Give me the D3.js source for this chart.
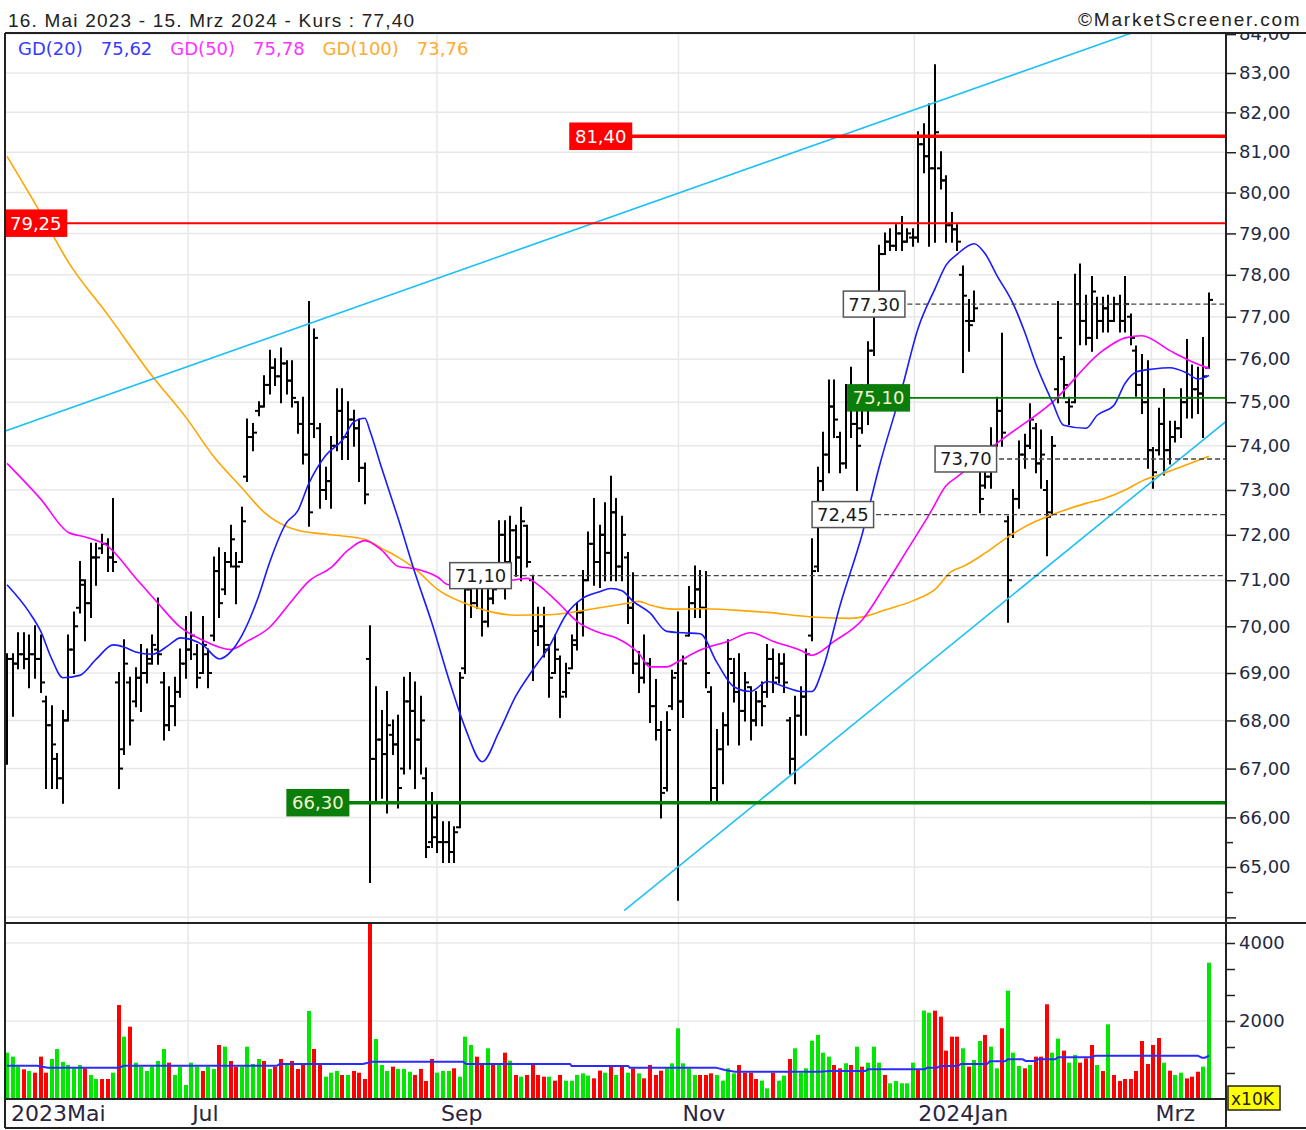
<!DOCTYPE html>
<html>
<head>
<meta charset="utf-8">
<title>Kurs 16. Mai 2023 - 15. Mrz 2024</title>
<script src="https://cdn.jsdelivr.net/npm/d3@7"></script>
<style>
  body { margin: 0; background: #fff; }
  svg { display: block; }
</style>
</head>
<body>
<script>
// daily bars, 16.05.2023 - 15.03.2024 (one entry per trading day)
var highs = [
  69.4, 69.4, 69.85, 69.85, 69.8, 70.0, 69.8, 68.5, 68.3, 67.3,
  68.2, 69.8, 70.3, 71.4, 71.0, 71.8, 71.8, 72.0, 71.9, 72.8,
  69.0, 69.7, 68.9, 69.1, 69.6, 69.5, 69.8, 70.6, 69.0, 68.7,
  68.9, 69.5, 70.2, 70.3, 69.6, 70.2, 69.5, 71.5, 71.7, 71.6,
  72.2, 71.6, 72.6, 74.6, 74.5, 75.0, 75.6, 76.2, 76.0, 76.25,
  75.95, 75.95, 75.0, 75.1, 77.35, 76.7, 74.5, 73.5, 74.2, 75.3,
  75.3, 75.0, 74.8, 74.6, 73.6, 70.0, 68.7, 68.2, 68.6, 68.0,
  68.1, 68.9, 69.0, 68.8, 68.5, 67.0, 66.5, 66.3, 65.9, 65.9,
  65.8, 69.0, 71.3, 71.3, 71.1, 71.0, 70.85, 71.0, 72.3, 72.3,
  72.4, 72.2, 72.6, 72.2, 71.1, 70.4, 70.4, 69.6, 69.8, 69.35,
  69.2, 69.8, 70.5, 71.2, 72.05, 72.8, 72.2, 72.7, 73.3, 72.8,
  72.4, 71.6, 71.15, 69.45, 69.8, 69.3, 68.85, 67.97, 68.17, 69.05,
  70.3, 69.35, 70.85, 71.3, 71.2, 71.18, 68.7, 67.8, 68.15, 69.7,
  69.3, 69.4, 69.0, 68.7, 68.6, 68.8, 69.6, 69.5, 69.4, 69.4,
  68.05, 68.5, 68.7, 69.5, 71.9, 73.5, 74.3, 75.5, 75.5, 74.3,
  75.4, 75.8, 74.85, 75.4, 76.4, 77.4, 78.7, 79.0, 79.1, 79.2,
  79.4, 79.1, 79.1, 81.5, 81.7, 82.2, 83.2, 81.0, 80.4, 79.5,
  79.2, 78.2, 77.4, 77.6, 73.65, 73.5, 74.4, 75.1, 76.6, 72.4,
  73.0, 74.1, 74.25, 74.95, 74.5, 74.35, 73.2, 74.2, 77.35, 76.05,
  75.1, 78.0, 78.25, 77.5, 77.95, 77.45, 77.45, 77.5, 77.45, 77.5,
  77.95, 77.05, 76.3, 76.1, 75.95, 73.95, 74.85, 75.3, 74.55, 74.55,
  75.3, 76.45, 75.85, 75.8, 76.5, 77.55
];
var lows = [
  67.1, 68.1, 69.1, 69.1, 68.7, 68.9, 68.6, 66.6, 66.6, 66.6,
  66.3, 68.0, 69.0, 70.3, 69.7, 70.2, 70.9, 71.6, 71.2, 71.2,
  66.6, 67.3, 67.5, 68.3, 68.2, 68.8, 69.2, 69.2, 67.6, 67.8,
  67.9, 68.5, 68.9, 69.3, 68.7, 69.0, 68.7, 69.7, 70.2, 70.7,
  71.3, 70.5, 71.4, 73.2, 73.9, 74.7, 74.9, 75.2, 75.4, 75.0,
  75.2, 74.9, 74.3, 73.6, 72.2, 74.2, 72.6, 72.8, 72.6, 73.9,
  73.7, 73.7, 74.0, 73.2, 72.7, 64.7, 66.3, 66.4, 66.1, 67.3,
  66.2, 66.9, 67.0, 66.6, 66.9, 65.2, 65.4, 65.3, 65.1, 65.1,
  65.1, 65.8, 69.0, 70.2, 70.4, 69.8, 70.0, 70.5, 71.0, 70.6,
  71.3, 71.1, 71.0, 71.3, 68.85, 69.6, 69.35, 68.5, 69.0, 68.07,
  68.5, 69.1, 69.5, 69.8, 71.0, 70.9, 70.85, 71.0, 71.0, 71.0,
  71.0, 70.07, 69.0, 68.6, 68.8, 67.97, 67.6, 66.0, 66.55, 68.24,
  64.35, 68.07, 69.8, 70.2, 70.2, 68.7, 66.3, 66.3, 66.7, 67.5,
  68.4, 67.5, 68.0, 67.6, 67.9, 67.9, 68.5, 68.6, 68.8, 68.6,
  66.9, 66.7, 67.7, 67.7, 69.7, 71.2, 73.0, 73.4, 74.2, 73.4,
  73.5, 74.2, 73.0, 74.3, 74.5, 76.1, 77.1, 78.5, 78.6, 78.6,
  78.6, 78.8, 78.7, 78.8, 80.5, 78.7, 78.8, 80.1, 78.8, 78.8,
  78.6, 75.7, 76.2, 76.9, 72.5, 73.05, 73.05, 74.0, 74.0, 70.1,
  71.95, 72.6, 73.5, 73.95, 73.4, 73.05, 71.55, 72.45, 75.0, 75.1,
  74.5, 75.0, 76.35, 76.35, 76.2, 76.5, 76.65, 76.65, 76.9, 76.65,
  76.65, 76.35, 75.15, 74.75, 73.5, 73.05, 73.8, 73.35, 73.6, 74.1,
  74.2, 74.65, 74.65, 74.75, 74.2, 75.8
];
var opens = [
  67.2, 69.3, 69.2, 69.4, 69.3, 69.4, 69.3, 68.4, 67.9, 67.2,
  66.8, 68.0, 69.5, 70.4, 70.9, 70.5, 71.5, 71.7, 71.8, 71.5,
  68.8, 67.4, 68.8, 68.4, 68.9, 69.0, 69.3, 69.5, 68.8, 67.9,
  68.3, 68.6, 69.2, 69.5, 69.4, 69.0, 69.4, 69.8, 71.2, 70.8,
  71.4, 71.3, 71.4, 73.3, 74.2, 74.8, 74.9, 75.4, 75.8, 75.6,
  75.9, 75.5, 75.0, 74.5, 73.8, 74.5, 74.4, 73.0, 73.2, 74.0,
  74.8, 74.2, 74.6, 74.4, 73.5, 69.3, 67.2, 67.6, 67.3, 67.7,
  67.5, 67.0, 68.4, 68.2, 67.6, 66.8, 65.5, 65.6, 65.5, 65.5,
  65.3, 65.8, 69.1, 70.8, 70.5, 70.9, 70.1, 70.6, 71.0, 72.0,
  71.4, 72.1, 71.5, 72.2, 71.0, 69.9, 70.0, 69.5, 69.0, 69.3,
  68.6, 69.1, 69.6, 70.3, 71.0, 71.8, 71.4, 72.0, 71.6, 72.5,
  71.3, 71.5, 70.4, 69.2, 68.9, 69.2, 68.3, 67.8, 66.6, 68.3,
  69.0, 68.4, 69.8, 70.5, 70.8, 70.4, 68.6, 66.6, 67.4, 67.9,
  69.0, 68.6, 68.2, 68.7, 68.0, 68.4, 68.6, 69.3, 68.9, 69.2,
  68.0, 67.2, 68.1, 68.5, 69.8, 71.3, 73.2, 73.8, 74.9, 74.2,
  73.6, 75.0, 74.5, 74.4, 75.0, 76.2, 77.2, 78.5, 78.8, 78.7,
  79.0, 78.8, 78.9, 78.9, 81.2, 80.9, 80.6, 80.6, 80.3, 79.2,
  79.1, 78.0, 76.9, 76.9, 73.5, 73.1, 73.3, 74.0, 74.8, 72.3,
  72.0, 72.8, 73.8, 74.0, 74.4, 73.6, 73.0, 72.5, 75.3, 76.0,
  75.0, 75.0, 77.3, 76.9, 76.5, 77.3, 76.9, 77.2, 76.9, 77.3,
  76.9, 77.0, 76.2, 75.4, 75.0, 73.9, 73.9, 74.5, 73.9, 74.2,
  74.4, 75.0, 75.1, 75.3, 75.2, 75.8
];
var closes = [
  69.3, 69.2, 69.4, 69.3, 69.4, 69.3, 68.8, 67.9, 67.5, 66.8,
  68.0, 69.5, 70.0, 71.0, 70.5, 71.5, 71.5, 71.8, 71.5, 71.4,
  67.0, 69.2, 68.0, 68.9, 69.0, 69.2, 69.6, 69.4, 67.9, 68.3,
  68.6, 69.2, 69.5, 69.8, 68.9, 69.6, 69.0, 71.2, 70.5, 71.4,
  71.9, 71.3, 72.3, 74.2, 74.3, 74.9, 75.4, 75.8, 75.6, 75.9,
  75.5, 75.1, 74.5, 73.8, 72.5, 76.5, 73.0, 73.2, 74.0, 74.8,
  74.2, 74.6, 74.4, 73.5, 72.9, 67.2, 67.6, 67.3, 67.9, 67.5,
  66.6, 68.4, 68.2, 67.6, 68.0, 65.4, 66.0, 65.5, 65.5, 65.3,
  65.7, 68.9, 70.8, 70.5, 70.9, 70.1, 70.6, 70.8, 72.0, 71.0,
  72.1, 71.5, 72.3, 71.4, 69.9, 70.0, 69.6, 68.9, 69.5, 68.5,
  69.0, 69.7, 70.3, 71.0, 71.8, 71.4, 72.0, 71.6, 72.5, 71.3,
  72.0, 70.4, 69.2, 68.9, 69.2, 68.3, 67.8, 66.5, 67.8, 68.9,
  68.4, 69.2, 70.5, 70.8, 70.4, 69.0, 66.6, 67.4, 67.9, 69.3,
  68.6, 68.2, 68.8, 68.0, 68.4, 68.3, 69.3, 68.8, 69.2, 68.8,
  67.2, 68.1, 68.5, 69.4, 71.2, 73.2, 73.8, 74.9, 74.6, 73.6,
  75.0, 74.5, 74.0, 75.0, 76.2, 77.2, 78.5, 78.8, 78.7, 79.0,
  78.8, 79.0, 78.9, 81.2, 80.9, 80.6, 81.5, 80.3, 79.2, 79.1,
  78.8, 77.5, 76.8, 77.2, 72.8, 73.3, 74.0, 74.8, 74.3, 71.0,
  72.8, 73.8, 74.0, 74.6, 73.6, 73.8, 72.4, 74.0, 76.5, 75.4,
  74.9, 77.3, 76.9, 76.5, 77.6, 76.9, 77.2, 76.9, 77.3, 76.9,
  77.3, 76.5, 75.4, 75.0, 73.9, 73.4, 74.5, 73.9, 74.2, 74.4,
  75.0, 75.1, 75.3, 75.2, 75.6, 77.4
];
// volume in x10K, with bar colour (G = up, R = down)
var volumes = [
  1190, 1086, 830, 760, 718, 675, 1086, 675, 1026, 1283,
  950, 872, 787, 872, 787, 616, 513, 513, 513, 675,
  2411, 1599, 1855, 932, 830, 718, 830, 975, 1283, 932,
  616, 830, 359, 932, 830, 718, 830, 770, 1385, 1342,
  975, 830, 830, 1342, 900, 1026, 975, 770, 830, 1026,
  872, 975, 770, 915, 2257, 1283, 872, 573, 675, 718,
  616, 616, 718, 675, 513, 5200, 1539, 872, 718, 830,
  770, 770, 700, 616, 770, 462, 1026, 675, 718, 718,
  787, 573, 1599, 1385, 1086, 898, 1300, 898, 898, 1188,
  983, 616, 573, 616, 898, 616, 573, 573, 470, 616,
  470, 470, 616, 658, 600, 530, 727, 675, 846, 616,
  846, 675, 787, 658, 530, 872, 616, 727, 787, 915,
  1813, 915, 787, 616, 616, 616, 658, 616, 470, 787,
  658, 872, 675, 675, 513, 470, 274, 675, 470, 600,
  1026, 1300, 675, 787, 1496, 1642, 1188, 1086, 872, 787,
  915, 872, 1342, 829, 932, 1342, 932, 616, 402, 462,
  402, 402, 932, 744, 2266, 2214, 2266, 2112, 1240, 1599,
  1599, 1300, 829, 1000, 1488, 1642, 1342, 787, 1813, 2779,
  1188, 846, 787, 872, 1086, 1086, 2428, 1188, 1548, 1240,
  932, 1129, 932, 1043, 1385, 872, 718, 1915, 615, 461,
  513, 513, 718, 1487, 897, 1385, 1564, 931, 726, 615,
  675, 528, 572, 700, 829, 3495
];
var volDirs =
  "GGGRGRRRGG" + "GGGGRGGRRG" + "RGRGGGGGGR" + "GGGGGRGGRG" +
  "RRGGGGRGRR" + "GRRRGRRGGG" + "RGRRRRGGGR" + "GGGRRRRGGG" +
  "RGGGRRGRGR" + "GRGRRRRGRR" + "GGGGGRRGRG" + "RGRGRRRRGG" +
  "GGGGRRRGGG" + "GRRRRGGRGG" + "RGGGGGGGRR" + "GRGRGGGRGG" +
  "GGGRGGRRRR" + "RGRGGRGGRG" + "GGRGRRRGGR" + "GGRRRGRGRR" +
  "RRRRRRRGRG" + "GRRRGG";

// moving averages: [bar index, value]
var gd20 = [[0,70.9],[4,70.3],[6,69.9],[8,69.3],[10,68.9],[13,68.95],[16,69.3],[19,69.6],[21,69.55],
  [23,69.45],[26,69.4],[29,69.6],[31,69.75],[35,69.6],[38,69.3],[40,69.45],[42,69.8],[45,70.65],
  [47,71.4],[50,72.27],[52,72.53],[54,73.15],[57,73.78],[60,74.13],[62,74.54],[64,74.63],[65,74.31],
  [67,73.5],[70,72.35],[73,71.15],[76,70.07],[79,68.88],[82,67.83],[85,67.14],[88,67.76],[91,68.51],
  [94,69.06],[97,69.57],[100,70.25],[103,70.61],[106,70.75],[108,70.82],[110,70.77],[112,70.54],
  [115,70.29],[118,69.89],[121,69.86],[124,69.84],[127,69.22],[130,68.71],[133,68.61],[136,68.82],
  [139,68.71],[142,68.61],[144,68.61],[146,69.12],[149,70.45],[153,72.03],[156,73.52],[160,75.28],
  [163,76.74],[166,77.67],[168,78.24],[170,78.5],[173,78.75],[175,78.5],[177,78.0],[180,77.3],
  [182,76.65],[184,75.9],[187,75.0],[189,74.47],[193,74.4],[195,74.7],[198,74.93],[200,75.44],
  [202,75.7],[205,75.77],[208,75.8],[211,75.68],[213,75.54],[215,75.62]];
var gd50 = [[0,73.6],[6,72.8],[11,72.05],[14,71.95],[18,71.75],[23,71.05],[27,70.5],[31,69.98],
  [35,69.7],[40,69.5],[43,69.68],[47,69.98],[51,70.56],[54,70.98],[58,71.28],[61,71.66],[64,71.87],
  [67,71.66],[70,71.3],[73,71.25],[77,71.07],[79,70.9],[85,71.0],[90,71.0],[93,71.04],[95,70.9],
  [99,70.46],[102,70.1],[106,69.86],[109,69.75],[113,69.42],[115,69.13],[118,69.13],[120,69.24],
  [124,69.49],[129,69.68],[133,69.86],[137,69.68],[142,69.48],[144,69.38],[148,69.68],[153,70.14],
  [157,70.87],[161,71.66],[165,72.46],[168,73.1],[170,73.3],[177,74.05],[187,75.0],[196,76.2],
  [200,76.5],[203,76.55],[208,76.2],[211,76.0],[215,75.78]];
var gd100 = [[0,80.9],[6,79.5],[11,78.3],[18,77.05],[26,75.6],[32,74.65],[37,73.75],[42,73.05],
  [46,72.5],[52,72.1],[58,72.0],[64,71.9],[67,71.7],[70,71.5],[73,71.25],[77,70.8],[83,70.45],
  [87,70.3],[91,70.24],[97,70.25],[102,70.32],[106,70.4],[111,70.5],[113,70.54],[115,70.46],
  [119,70.37],[124,70.38],[130,70.35],[136,70.3],[144,70.2],[151,70.17],[154,70.23],[157,70.35],
  [162,70.55],[166,70.8],[169,71.2],[171,71.3],[175,71.6],[179,71.95],[184,72.3],[187,72.45],
  [193,72.7],[196,72.8],[200,73.0],[203,73.2],[207,73.38],[211,73.57],[215,73.76]];
// average volume line
var volAvg = [[0,855],[5.4,855],[7.3,804],[20.2,804],[20.8,855],[48.3,855],[48.8,898],[63.7,898],
  [65.3,958],[81.6,958],[82.1,898],[100.7,898],[101,846],[111.1,846],[111.4,804],[126.8,804],
  [128.4,744],[130.2,701],[145.4,701],[147.2,718],[153.5,718],[154,761],[164.2,761],[164.6,804],
  [166.4,804],[166.9,846],[170.1,846],[170.6,898],[175.3,898],[175.8,966],[178.5,966],[179,1017],
  [181.7,1017],[182.2,975],[183.9,975],[184.4,1017],[187.5,1017],[188,1069],[194.1,1069],
  [194.6,1111],[213,1111],[213.7,1060],[214.3,1060],[215,1111]];

// trend lines: two anchor points [bar index, price] and the bar range drawn
var trendAnchors = [[[0, 74.35], [166, 82.25]], [[120, 65.0], [200, 72.7]]];
var trendRange = [[-0.4, 218.1], [110.4, 218.1]];

// horizontal levels
var levelValues = [81.40, 79.25, 77.30, 75.10, 73.70, 72.45, 71.10, 66.30];
var levelStart = [100.7, -0.36, 149.6, 150.4, 166, 144, 79.2, 50.1];
var levelKind = ["redBold", "red", "dash", "green", "dash", "dash", "dash", "greenBold"];

// axes
var priceTicks = [64, 65, 66, 67, 68, 69, 70, 71, 72, 73, 74, 75, 76, 77, 78, 79, 80, 81, 82, 83, 84];
var priceLabels = [65, 66, 67, 68, 69, 70, 71, 72, 73, 74, 75, 76, 77, 78, 79, 80, 81, 82, 83, 84];
var priceMinorTicks = [64.5, 65.5];
var volTicks = [667, 1333, 2000, 2667, 3333, 4000];
var volLabels = [2000, 4000];
var monthLabels = ["2023Mai", "Jul", "Sep", "Nov", "2024Jan", "Mrz"];
var monthPos = [0, 32.4, 76.9, 120.1, 162.3, 204.7];

var legendNames = ["GD(20)", "GD(50)", "GD(100)"];
var legendValues = ["75,62", "75,78", "73,76"];
var legendColors = ["#3a3aff", "#ff33ff", "#ffaa33"];
var titleText = "16. Mai 2023 - 15. Mrz 2024 - Kurs : 77,40";

// ---------------------------------------------------------------
var width = 1306, height = 1130,
    frameLeft = 5, frameRight = 1226,
    priceTop = 33, priceBottom = 922,
    volTop = 924, volBottom = 1099, frameBottom = 1128;

var de = d3.formatLocale({decimal: ",", thousands: ".", grouping: [3], currency: ["", " €"]});
var fmtPrice = de.format(".2f");

var x = d3.scaleLinear().domain([0, 215]).range([7, 1209]);
var y = d3.scaleLog().domain([65, 83]).range([867, 73]);
var yVol = d3.scaleLinear().domain([0, 4000]).range([volBottom, 943]);

var svg = d3.select("body").append("svg")
    .attr("width", width)
    .attr("height", height);

svg.append("rect").attr("width", width).attr("height", height).attr("fill", "#fff");

var defs = svg.append("defs");
defs.append("clipPath").attr("id", "clip-price").append("rect")
    .attr("x", frameLeft).attr("y", priceTop)
    .attr("width", frameRight - frameLeft).attr("height", priceBottom - priceTop);
defs.append("clipPath").attr("id", "clip-vol").append("rect")
    .attr("x", frameLeft).attr("y", volTop)
    .attr("width", frameRight - frameLeft).attr("height", volBottom - volTop);
defs.append("clipPath").attr("id", "clip-axis").append("rect")
    .attr("x", frameRight).attr("y", priceTop + 1)
    .attr("width", width - frameRight).attr("height", priceBottom - priceTop - 1);

// grid
var grid = svg.append("g").attr("stroke", "#e8e8e8").attr("stroke-width", 1.5);
grid.selectAll(".hg").data(priceTicks).enter().append("line")
    .attr("clip-path", "url(#clip-price)")
    .attr("x1", frameLeft).attr("x2", frameRight)
    .attr("y1", function(d) { return y(d); })
    .attr("y2", function(d) { return y(d); });
grid.selectAll(".vg").data(volLabels).enter().append("line")
    .attr("x1", frameLeft).attr("x2", frameRight)
    .attr("y1", function(d) { return yVol(d); })
    .attr("y2", function(d) { return yVol(d); });
grid.selectAll(".mg").data(monthPos.slice(1)).enter().append("line")
    .attr("x1", function(d) { return x(d); })
    .attr("x2", function(d) { return x(d); })
    .attr("y1", priceTop).attr("y2", volBottom);

var days = d3.range(highs.length);
var px = function(i) { return Math.round(x(i)); };

// OHLC bars
var bars = svg.append("g")
    .attr("clip-path", "url(#clip-price)")
    .attr("stroke", "#000")
    .attr("stroke-width", 2);
var bar = bars.selectAll(".bar").data(days).enter().append("g");
bar.append("line")
    .attr("x1", px).attr("x2", px)
    .attr("y1", function(i) { return y(highs[i]) - 1; })
    .attr("y2", function(i) { return y(lows[i]) + 1; });
bar.append("line")
    .attr("x1", function(i) { return px(i) - 4; }).attr("x2", px)
    .attr("y1", function(i) { return y(opens[i]); })
    .attr("y2", function(i) { return y(opens[i]); });
bar.append("line")
    .attr("x1", px).attr("x2", function(i) { return px(i) + 4; })
    .attr("y1", function(i) { return y(closes[i]); })
    .attr("y2", function(i) { return y(closes[i]); });

// moving averages
var maLine = d3.line()
    .x(function(d) { return x(d[0]); })
    .y(function(d) { return y(d[1]); })
    .curve(d3.curveMonotoneX);
var maG = svg.append("g").attr("clip-path", "url(#clip-price)")
    .attr("fill", "none").attr("stroke-width", 1.6);
maG.append("path").datum(gd100).attr("stroke", "#ffa500").attr("d", maLine);
maG.append("path").datum(gd50).attr("stroke", "#ff00ff").attr("d", maLine);
maG.append("path").datum(gd20).attr("stroke", "#1a1aff").attr("d", maLine);

// trend lines (straight in pixel space)
var trendG = svg.append("g").attr("clip-path", "url(#clip-price)")
    .attr("stroke", "#1ec0f5").attr("stroke-width", 1.6);
trendAnchors.forEach(function(a, k) {
  var x1 = x(a[0][0]), y1 = y(a[0][1]), x2 = x(a[1][0]), y2 = y(a[1][1]);
  var slope = (y2 - y1) / (x2 - x1);
  var xs = x(trendRange[k][0]), xe = x(trendRange[k][1]);
  trendG.append("line")
      .attr("x1", xs).attr("y1", y1 + (xs - x1) * slope)
      .attr("x2", xe).attr("y2", y1 + (xe - x1) * slope);
});

// horizontal levels with labels
var levelStyle = {
  redBold:   {stroke: "#ff0000", width: 3.5, dash: null, fill: "#ff0000", text: "#ffffff", border: "#ff0000"},
  red:       {stroke: "#ff0000", width: 2, dash: null, fill: "#ff0000", text: "#ffffff", border: "#ff0000"},
  greenBold: {stroke: "#008000", width: 3.5, dash: null, fill: "#0b7d0b", text: "#f6f6cf", border: "#0b7d0b"},
  green:     {stroke: "#008000", width: 1.6, dash: null, fill: "#0b7d0b", text: "#f6f6cf", border: "#0b7d0b"},
  dash:      {stroke: "#444", width: 1.3, dash: "5,3", fill: "#ffffff", text: "#1a1a1a", border: "#555"}
};
var levelG = svg.append("g").attr("clip-path", "url(#clip-price)");
levelValues.forEach(function(v, k) {
  var st = levelStyle[levelKind[k]];
  var ly = y(v), lx = x(levelStart[k]);
  levelG.append("line")
      .attr("x1", lx).attr("x2", frameRight)
      .attr("y1", ly).attr("y2", ly)
      .attr("stroke", st.stroke).attr("stroke-width", st.width)
      .attr("stroke-dasharray", st.dash);
  var box = levelG.append("rect");
  var t = levelG.append("text")
      .attr("x", lx + 5).attr("y", ly).attr("dy", "0.36em")
      .style("font-family", "'DejaVu Sans', sans-serif")
      .style("font-size", "18px")
      .attr("fill", st.text)
      .text(fmtPrice(v));
  var w = t.node().getComputedTextLength();
  box.attr("x", lx).attr("y", ly - 13).attr("width", w + 10).attr("height", 26)
      .attr("fill", st.fill).attr("stroke", st.border).attr("stroke-width", 1.5);
});

// volume
var volG = svg.append("g").attr("clip-path", "url(#clip-vol)");
volG.selectAll(".vb").data(days).enter().append("rect")
    .attr("x", function(i) { return px(i) - 2; })
    .attr("width", 4)
    .attr("y", function(i) { return yVol(volumes[i]); })
    .attr("height", function(i) { return volBottom - yVol(volumes[i]); })
    .attr("fill", function(i) { return volDirs.charAt(i) === "G" ? "#00e800" : "#ff0000"; });
volG.append("path").datum(volAvg)
    .attr("fill", "none").attr("stroke", "#2b2bff").attr("stroke-width", 2)
    .attr("d", d3.line()
        .x(function(d) { return x(d[0]); })
        .y(function(d) { return yVol(d[1]); }));

// right axes
var axisFont = function(g) {
  g.select(".domain").remove();
  g.selectAll("text")
      .style("font-family", "'DejaVu Sans', sans-serif")
      .style("font-size", "18px")
      .attr("fill", "#1f2a44");
  g.selectAll("line").attr("stroke", "#222").attr("stroke-width", 1.5);
};
var priceAxisClip = svg.append("g").attr("clip-path", "url(#clip-axis)");
priceAxisClip.append("g")
    .attr("transform", "translate(" + frameRight + ",0)")
    .call(d3.axisRight(y).tickValues(priceTicks).tickSize(10).tickPadding(3)
        .tickFormat(function(d) { return priceLabels.indexOf(d) >= 0 ? fmtPrice(d) : ""; }))
    .call(axisFont);
priceAxisClip.append("g")
    .attr("transform", "translate(" + frameRight + ",0)")
    .call(d3.axisRight(y).tickValues(priceMinorTicks).tickSize(7).tickFormat(""))
    .call(axisFont);
svg.append("g")
    .attr("transform", "translate(" + frameRight + ",0)")
    .call(d3.axisRight(yVol).tickValues(volTicks).tickSize(9).tickPadding(4)
        .tickFormat(function(d) { return volLabels.indexOf(d) >= 0 ? d : ""; }))
    .call(axisFont);

// x10K unit box
var unitG = svg.append("g");
unitG.append("rect")
    .attr("x", frameRight + 2).attr("y", 1086).attr("width", 52).attr("height", 24)
    .attr("fill", "#ffff00").attr("stroke", "#222").attr("stroke-width", 1.5);
unitG.append("text")
    .attr("x", frameRight + 5).attr("y", 1105)
    .style("font-family", "'DejaVu Sans', sans-serif").style("font-size", "17px")
    .attr("fill", "#222").text("x10K");

// month labels
svg.append("g").selectAll("text").data(monthLabels).enter().append("text")
    .attr("x", function(d, k) { return x(monthPos[k]) + 4; })
    .attr("y", 1121)
    .style("font-family", "'DejaVu Sans', sans-serif")
    .style("font-size", "22px")
    .attr("fill", "#2a2540")
    .text(function(d) { return d; });

// frame
var frame = svg.append("g").attr("stroke", "#222").attr("stroke-width", 2);
frame.append("line").attr("x1", frameLeft).attr("x2", width).attr("y1", priceTop).attr("y2", priceTop);
frame.append("line").attr("x1", frameLeft).attr("x2", width).attr("y1", priceBottom + 1).attr("y2", priceBottom + 1);
frame.append("line").attr("x1", frameLeft).attr("x2", frameRight).attr("y1", volBottom).attr("y2", volBottom);
frame.append("line").attr("x1", frameLeft).attr("x2", width).attr("y1", frameBottom).attr("y2", frameBottom);
frame.append("line").attr("x1", frameLeft).attr("x2", frameLeft).attr("y1", priceTop).attr("y2", frameBottom);
frame.append("line").attr("x1", frameRight).attr("x2", frameRight).attr("y1", priceTop).attr("y2", frameBottom);

// header
svg.append("text")
    .attr("x", 8).attr("y", 27)
    .style("font-family", "'Liberation Sans', Arial, sans-serif")
    .style("font-size", "19px").style("letter-spacing", "1.2px")
    .attr("fill", "#222").text(titleText);
svg.append("text")
    .attr("x", 1078).attr("y", 26)
    .style("font-family", "'Liberation Sans', Arial, sans-serif")
    .style("font-size", "19px").style("letter-spacing", "1.8px")
    .attr("fill", "#222").text("\u00a9MarketScreener.com");

// legend
var lx = 18;
legendNames.forEach(function(n, k) {
  [n, legendValues[k]].forEach(function(s) {
    var t = svg.append("text")
        .attr("x", lx).attr("y", 55)
        .style("font-family", "'DejaVu Sans', sans-serif")
        .style("font-size", "18px")
        .attr("fill", legendColors[k]).text(s);
    lx += t.node().getComputedTextLength() + 18;
  });
});
</script>
</body>
</html>
